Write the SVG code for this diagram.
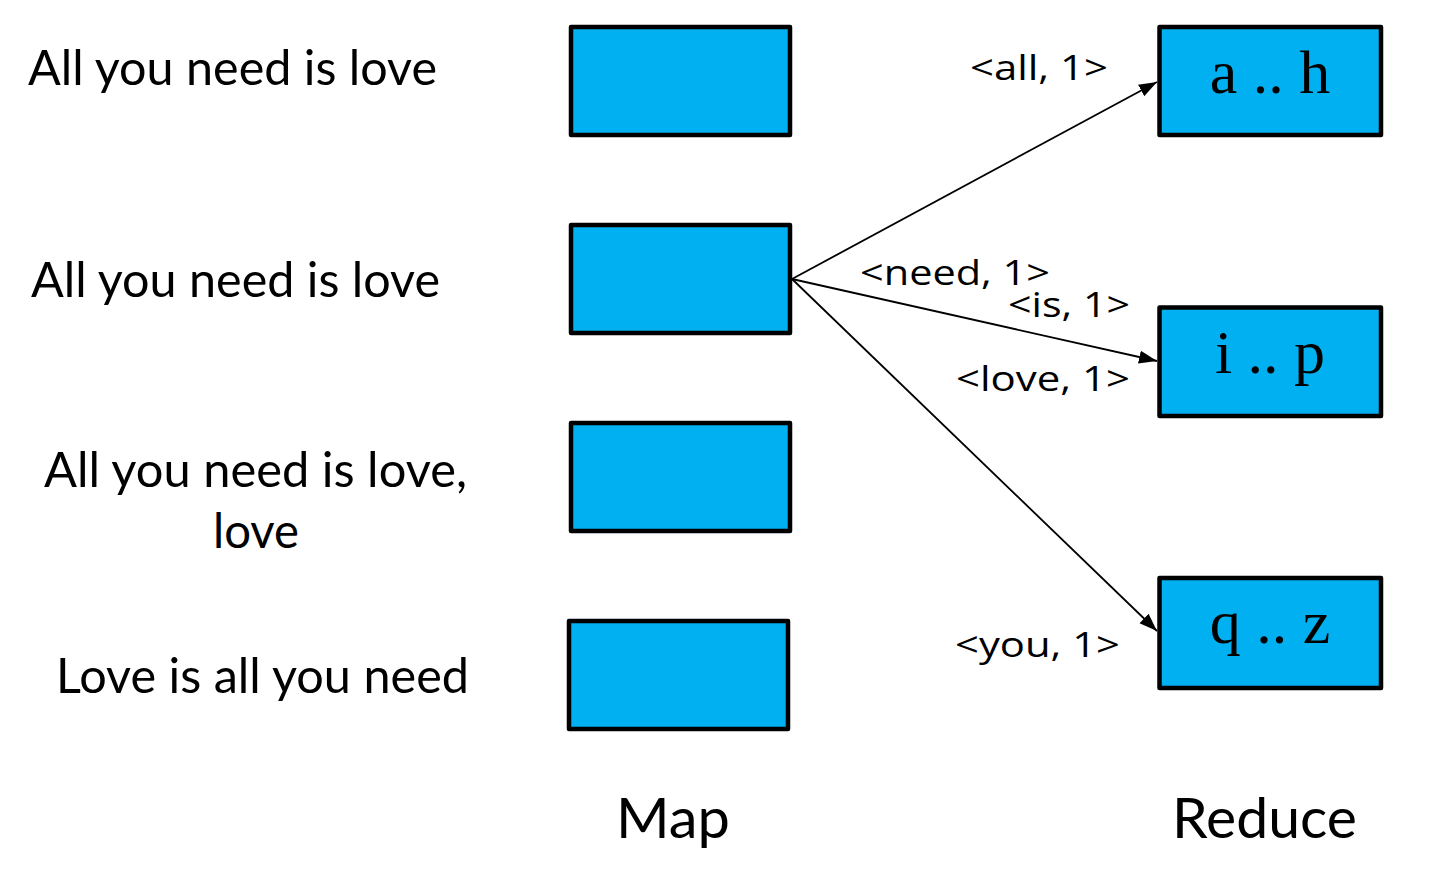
<svg xmlns="http://www.w3.org/2000/svg" width="1452" height="884" viewBox="0 0 1452 884">
<style>
.box{fill:#00B0F0;stroke:#000;stroke-width:4.5;stroke-linejoin:round}
.t{font-family:Lato,"Open Sans","Noto Sans",sans-serif;fill:#000}
.big{font-size:48px}
.lbl{font-family:"Open Sans","Noto Sans",sans-serif;font-size:34px}
.cap{font-size:56px}
.ser{font-family:"Liberation Serif","DejaVu Serif",serif;font-size:62px;fill:#000;text-anchor:middle}
.conn{stroke:#000;stroke-width:1.8;fill:none}
</style>
<defs>
<marker id="arr" markerUnits="userSpaceOnUse" markerWidth="20" markerHeight="16" viewBox="0 0 20 16" refX="18" refY="8" orient="auto">
<path d="M0,1.5 L18,8 L0,14.5 Z" fill="#000"/>
</marker>
</defs>
<rect width="1452" height="884" fill="#fff"/>
<g id="inputs">
<text class="t big" x="28" y="85" textLength="409" lengthAdjust="spacingAndGlyphs">All you need is love</text>
<text class="t big" x="31" y="297" textLength="409" lengthAdjust="spacingAndGlyphs">All you need is love</text>
<text class="t big" x="44" y="487" textLength="423" lengthAdjust="spacingAndGlyphs">All you need is love,</text>
<text class="t big" x="213" y="548" textLength="86" lengthAdjust="spacingAndGlyphs">love</text>
<text class="t big" x="56" y="693" textLength="413" lengthAdjust="spacingAndGlyphs">Love is all you need</text>
</g>
<g id="map1"><rect class="box" x="571" y="27" width="219" height="108"/></g>
<g id="map2"><rect class="box" x="571" y="225" width="219" height="108"/></g>
<g id="map3"><rect class="box" x="571" y="423" width="219" height="108"/></g>
<g id="map4"><rect class="box" x="569" y="621" width="219" height="108"/></g>
<g id="reduce-ah"><rect class="box" x="1159.5" y="27" width="221.5" height="108"/><text class="ser" x="1270" y="93">a .. h</text></g>
<g id="reduce-ip"><rect class="box" x="1159.5" y="307.5" width="221.5" height="108.5"/><text class="ser" x="1270" y="373">i .. p</text></g>
<g id="reduce-qz"><rect class="box" x="1159.5" y="578" width="221.5" height="110"/><text class="ser" x="1270" y="643">q .. z</text></g>
<g id="connectors">
<line class="conn" x1="792" y1="279" x2="1157" y2="82" marker-end="url(#arr)"/>
<line class="conn" x1="792" y1="279" x2="1157" y2="361" marker-end="url(#arr)"/>
<line class="conn" x1="792" y1="279" x2="1157" y2="631" marker-end="url(#arr)"/>
</g>
<g id="labels">
<text class="lbl" x="970" y="80" textLength="138" lengthAdjust="spacingAndGlyphs">&lt;all, 1&gt;</text>
<text class="lbl" x="860" y="285" textLength="190" lengthAdjust="spacingAndGlyphs">&lt;need, 1&gt;</text>
<text class="lbl" x="1008" y="317" textLength="122" lengthAdjust="spacingAndGlyphs">&lt;is, 1&gt;</text>
<text class="lbl" x="956" y="391" textLength="174" lengthAdjust="spacingAndGlyphs">&lt;love, 1&gt;</text>
<text class="lbl" x="955" y="657" textLength="165" lengthAdjust="spacingAndGlyphs">&lt;you, 1&gt;</text>
</g>
<g id="captions">
<text class="t cap" x="616" y="838" textLength="114" lengthAdjust="spacingAndGlyphs">Map</text>
<text class="t cap" x="1172" y="838" textLength="185" lengthAdjust="spacingAndGlyphs">Reduce</text>
</g>
</svg>
